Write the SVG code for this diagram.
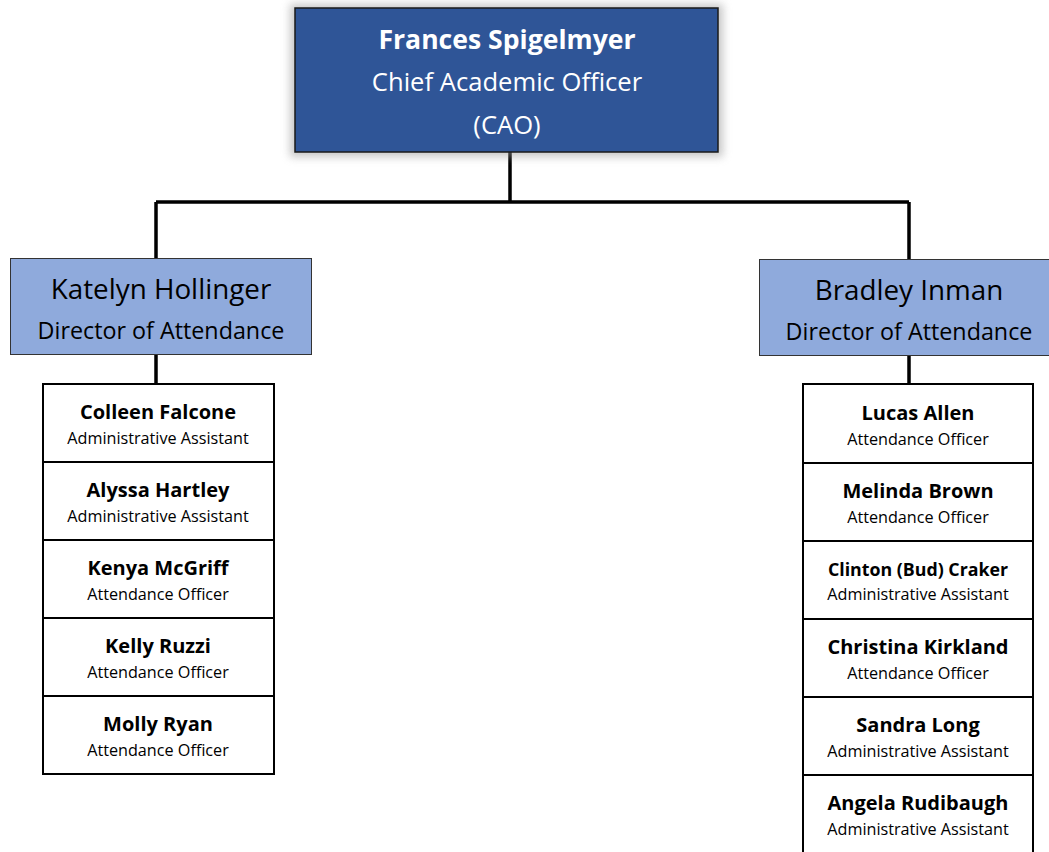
<svg xmlns="http://www.w3.org/2000/svg" width="1049" height="852" viewBox="0 0 1049 852">
  <defs>
    <filter id="glow" x="-10%" y="-20%" width="120%" height="140%">
      <feGaussianBlur stdDeviation="4"/>
    </filter>
  </defs>
  <style>
    text { font-family: "Open Sans", Lato, sans-serif; text-anchor: middle; }
    .ceo { fill: #2F5597; stroke: #1a1a1a; stroke-width: 1.5; }
    .dir { fill: #8FAADC; stroke: #333; stroke-width: 1; }
    .cell { fill: #fff; stroke: #000; stroke-width: 2; }
    .wire { stroke: #000; stroke-width: 3.5; fill: none; }
    .ceo-name { fill: #fff; font-weight: bold; font-size: 26.6px; }
    .ceo-title { fill: #fff; font-size: 25.6px; }
    .dir-name { fill: #000; font-size: 27.8px; }
    .dir-title { fill: #000; font-size: 23.3px; }
    .name { fill: #000; font-weight: bold; font-size: 20px; }
    .role { fill: #000; font-size: 16.2px; }
  </style>

  <rect width="1049" height="852" fill="#fff"/>

  <!-- connectors -->
  <g id="connectors">
    <path class="wire" d="M510 152 V202 M156 202 H909 M156 202 V258 M909 202 V259"/>
    <path class="wire" d="M156 354 V384 M909 355 V384"/>
  </g>

  <!-- chief academic officer -->
  <g id="cao">
    <rect x="290" y="4" width="433" height="153" fill="#9a9a9a" opacity="0.55" filter="url(#glow)"/>
    <rect class="ceo" x="295" y="8" width="423" height="144"/>
    <text class="ceo-name" x="507" y="49">Frances Spigelmyer</text>
    <text class="ceo-title" x="507" y="91">Chief Academic Officer</text>
    <text class="ceo-title" x="507" y="134">(CAO)</text>
  </g>

  <!-- directors -->
  <g id="dir-hollinger">
    <rect class="dir" x="10.5" y="258.5" width="301" height="96"/>
    <text class="dir-name" x="161" y="299">Katelyn Hollinger</text>
    <text class="dir-title" x="161" y="339">Director of Attendance</text>
  </g>
  <g id="dir-inman">
    <rect class="dir" x="759.5" y="259.5" width="300" height="96"/>
    <text class="dir-name" x="909" y="300">Bradley Inman</text>
    <text class="dir-title" x="909" y="340">Director of Attendance</text>
  </g>

  <!-- staff under Hollinger -->
  <g id="staff-left">
    <g id="falcone">
      <rect class="cell" x="43" y="384" width="231" height="78"/>
      <text class="name" x="158" y="419">Colleen Falcone</text>
      <text class="role" x="158" y="444">Administrative Assistant</text>
    </g>
    <g id="hartley">
      <rect class="cell" x="43" y="462" width="231" height="78"/>
      <text class="name" x="158" y="497">Alyssa Hartley</text>
      <text class="role" x="158" y="522">Administrative Assistant</text>
    </g>
    <g id="mcgriff">
      <rect class="cell" x="43" y="540" width="231" height="78"/>
      <text class="name" x="158" y="575">Kenya McGriff</text>
      <text class="role" x="158" y="600">Attendance Officer</text>
    </g>
    <g id="ruzzi">
      <rect class="cell" x="43" y="618" width="231" height="78"/>
      <text class="name" x="158" y="653">Kelly Ruzzi</text>
      <text class="role" x="158" y="678">Attendance Officer</text>
    </g>
    <g id="ryan">
      <rect class="cell" x="43" y="696" width="231" height="78"/>
      <text class="name" x="158" y="731">Molly Ryan</text>
      <text class="role" x="158" y="756">Attendance Officer</text>
    </g>
  </g>

  <!-- staff under Inman -->
  <g id="staff-right">
    <g id="allen">
      <rect class="cell" x="803" y="384" width="230" height="79"/>
      <text class="name" x="918" y="420">Lucas Allen</text>
      <text class="role" x="918" y="445">Attendance Officer</text>
    </g>
    <g id="brown">
      <rect class="cell" x="803" y="463" width="230" height="78"/>
      <text class="name" x="918" y="498">Melinda Brown</text>
      <text class="role" x="918" y="523">Attendance Officer</text>
    </g>
    <g id="craker">
      <rect class="cell" x="803" y="541" width="230" height="78"/>
      <text class="name" x="918" y="576" style="font-size:17.8px">Clinton (Bud) Craker</text>
      <text class="role" x="918" y="600">Administrative Assistant</text>
    </g>
    <g id="kirkland">
      <rect class="cell" x="803" y="619" width="230" height="78"/>
      <text class="name" x="918" y="654">Christina Kirkland</text>
      <text class="role" x="918" y="679">Attendance Officer</text>
    </g>
    <g id="long">
      <rect class="cell" x="803" y="697" width="230" height="78"/>
      <text class="name" x="918" y="732">Sandra Long</text>
      <text class="role" x="918" y="757">Administrative Assistant</text>
    </g>
    <g id="rudibaugh">
      <rect class="cell" x="803" y="775" width="230" height="80"/>
      <text class="name" x="918" y="810">Angela Rudibaugh</text>
      <text class="role" x="918" y="835">Administrative Assistant</text>
    </g>
  </g>
</svg>
